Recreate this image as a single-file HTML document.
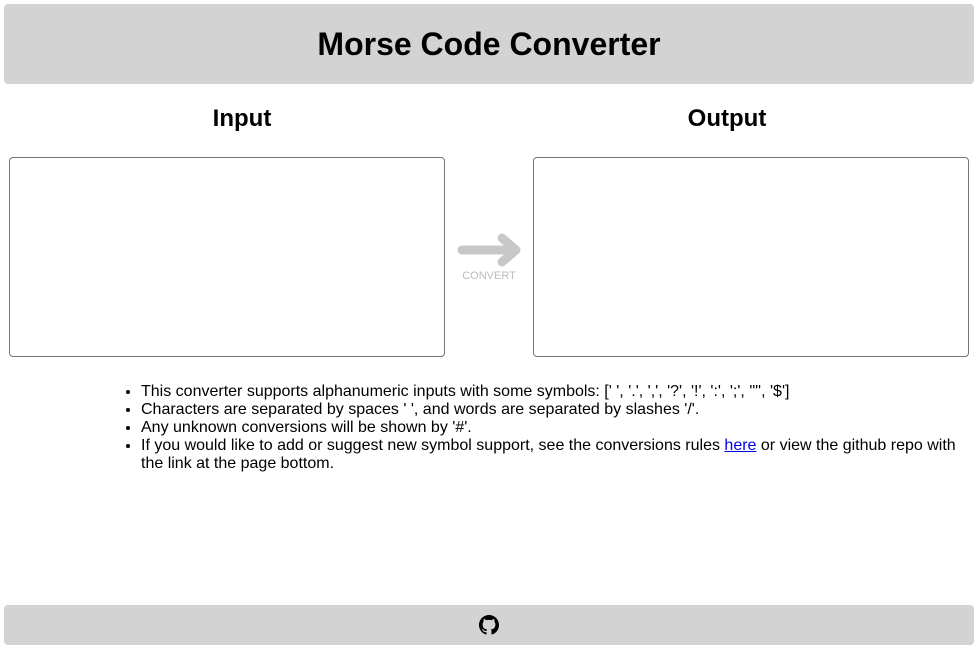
<!DOCTYPE html>
<html><head><style>
body{margin:0;width:979px;height:650px;font-family:"Liberation Sans",sans-serif;position:relative;background:#fff;overflow:hidden}
.hdr{position:absolute;left:4px;top:4px;width:970px;height:80px;background:#d3d3d3;border-radius:4px;text-align:center;line-height:80px;font-size:32px;font-weight:bold}
h2{position:absolute;margin:0;font-size:24px;font-weight:bold;top:105px;width:436px;text-align:center}
.ta{position:absolute;top:157px;width:434px;height:198px;border:1px solid #767676;border-radius:4px;background:#fff}
ul{position:absolute;left:101px;top:383px;margin:0;padding-left:40px;width:830px;font-size:16px;line-height:18px}
a{color:#00e;text-decoration:underline}
.ftr{position:absolute;left:4px;top:605px;width:970px;height:40px;background:#d3d3d3;border-radius:4px}
</style></head><body>
<div class="hdr">Morse Code Converter</div>
<h2 style="left:24px">Input</h2>
<h2 style="left:509px">Output</h2>
<div class="ta" style="left:9px"></div>
<div class="ta" style="left:533px"></div>
<svg style="position:absolute;left:456px;top:230px" width="70" height="55">
<path d="M6 20 H58 M46 8 L60 20 L46 32" stroke="#c8c8c8" stroke-width="9" fill="none" stroke-linecap="round" stroke-linejoin="round"/>
<text x="33" y="49" text-anchor="middle" font-size="11" fill="#bbb" font-family="Liberation Sans">CONVERT</text>
</svg>
<ul>
<li>This converter supports alphanumeric inputs with some symbols: [' ', '.', ',', '?', '!', ':', ';', '"', '$']</li>
<li>Characters are separated by spaces ' ', and words are separated by slashes '/'.</li>
<li>Any unknown conversions will be shown by '#'.</li>
<li>If you would like to add or suggest new symbol support, see the conversions rules <a>here</a> or view the github repo with the link at the page bottom.</li>
</ul>
<div class="ftr">
<svg style="position:absolute;left:475px;top:10px" width="20" height="20" viewBox="0 0 16 16"><path fill="#000" d="M8 0C3.58 0 0 3.58 0 8c0 3.54 2.29 6.53 5.470 7.590.4.07.55-.17.55-.38 0-.19-.01-.82-.01-1.490-2.010.37-2.530-.49-2.690-.94-.09-.23-.48-.94-.82-1.130-.28-.15-.68-.52-.01-.53.63-.01 1.080.58 1.230.82.72 1.210 1.870.87 2.330.66.07-.52.28-.87.51-1.070-1.780-.2-3.640-.89-3.640-3.950 0-.87.31-1.590.82-2.150-.08-.2-.36-1.020.08-2.120 0 0 .67-.21 2.200.82.64-.18 1.320-.27 2-.27.68 0 1.360.09 2 .27 1.530-1.040 2.200-.82 2.200-.82.44 1.100.16 1.920.08 2.120.51.56.82 1.270.82 2.150 0 3.070-1.870 3.750-3.650 3.950.29.25.54.73.54 1.480 0 1.070-.01 1.930-.01 2.200 0 .21.15.46.55.38A8.013 8.013 0 0 0 16 8c0-4.420-3.580-8-8-8z"/></svg>
</div>
</body></html>
